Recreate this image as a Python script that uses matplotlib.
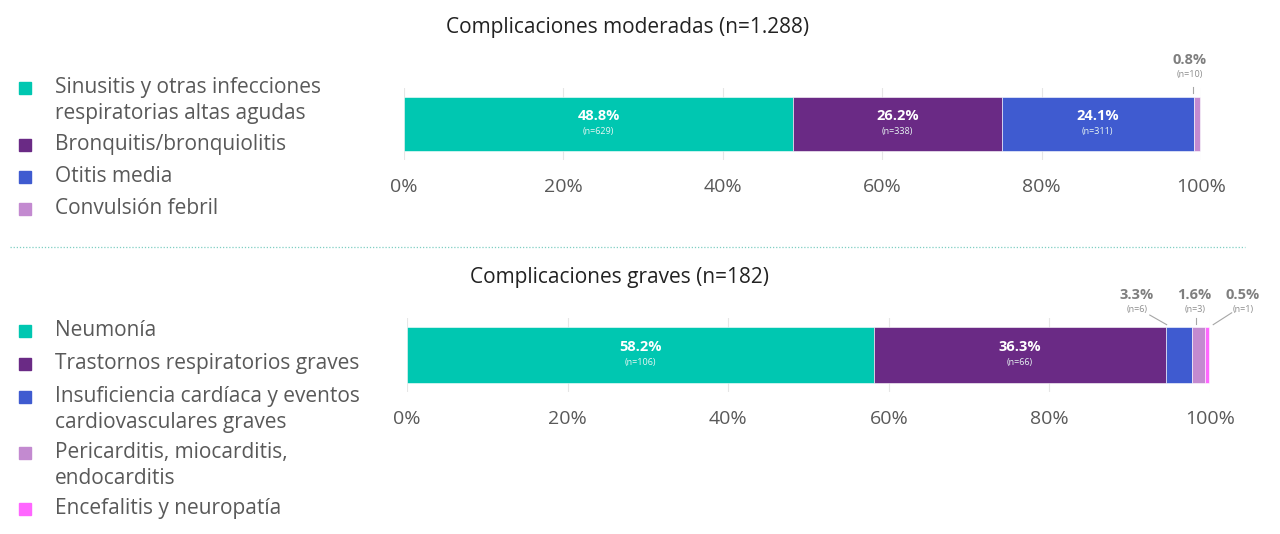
import matplotlib.pyplot as plt
from matplotlib.patches import Rectangle
from matplotlib.lines import Line2D

plt.rcParams['font.family'] = ['Open Sans', 'DejaVu Sans']

# datos
mod_labels = ['Sinusitis y otras infecciones\nrespiratorias altas agudas',
              'Bronquitis/bronquiolitis', 'Otitis media', 'Convulsión febril']
mod_pct = [48.8, 26.2, 24.1, 0.8]
mod_n = [629, 338, 311, 10]
mod_colors = ['#00C7B1', '#6A2A85', '#3F5BD0', '#C38AD0']

grav_labels = ['Neumonía', 'Trastornos respiratorios graves',
               'Insuficiencia cardíaca y eventos\ncardiovasculares graves',
               'Pericarditis, miocarditis,\nendocarditis', 'Encefalitis y neuropatía']
grav_pct = [58.2, 36.3, 3.3, 1.6, 0.5]
grav_n = [106, 66, 6, 3, 1]
grav_colors = ['#00C7B1', '#6A2A85', '#3F5BD0', '#C38AD0', '#FF66FF']

ticks = [0, 20, 40, 60, 80, 100]
W, H = 1280, 534

fig = plt.figure(figsize=(12.8, 5.34), dpi=100)


def px_axes(x0, x1, y0, y1):
    return fig.add_axes([x0 / W, 1 - y1 / H, (x1 - x0) / W, (y1 - y0) / H])


def draw_bar(ax, pct, n, colors):
    left = 0
    for p, k, c in zip(pct, n, colors):
        ax.barh(0, p, left=left, height=0.75, color=c, edgecolor='white', linewidth=0.4, zorder=2)
        if p > 10:
            ax.text(left + p / 2, 0.11, f'{p}%', ha='center', va='center', color='white',
                    fontsize=10.5, fontweight='bold', zorder=3)
            ax.text(left + p / 2, -0.1, f'(n={k})', ha='center', va='center', color='#E8F6F3',
                    fontsize=6.5, zorder=3)
        left += p
    ax.set_xlim(0, 100)
    ax.set_ylim(-0.5, 0.5)
    ax.set_xticks(ticks)
    ax.set_xticklabels([f'{t}%' for t in ticks], fontsize=14, color='#595959')
    ax.tick_params(axis='x', length=0, pad=13)
    ax.set_yticks([])
    for s in ax.spines.values():
        s.set_visible(False)
    ax.grid(axis='x', color='#E6E6E6', linewidth=0.8, zorder=0)
    ax.set_axisbelow(True)


def small_label(ax, x, y, pct, k, line):
    tr = ax.get_xaxis_transform()
    ax.text(x, y, f'{pct}%', transform=tr, ha='center', va='center', color='#7F7F7F',
            fontsize=10.5, fontweight='bold', clip_on=False)
    ax.text(x, y - 0.2, f'(n={k})', transform=tr, ha='center', va='center', color='#8C8C8C',
            fontsize=6.5, clip_on=False)
    ax.add_line(Line2D(line[0], line[1], transform=tr, color='#A6A6A6', linewidth=0.8,
                       clip_on=False))


# moderadas
ax1 = px_axes(404, 1201, 88, 160)
draw_bar(ax1, mod_pct, mod_n, mod_colors)
small_label(ax1, 98.6, 1.39, mod_pct[3], mod_n[3], ([99.0, 99.0], [1.01, 0.93]))
fig.text(628 / W, 1 - 28 / H, 'Complicaciones moderadas (n=1.288)', ha='center', va='center',
         fontsize=15, color='#222222')

# graves
ax2 = px_axes(407, 1210, 318, 392)
draw_bar(ax2, grav_pct, grav_n, grav_colors)
small_label(ax2, 90.9, 1.31, grav_pct[2], grav_n[2], ([92.5, 94.6], [1.04, 0.91]))
small_label(ax2, 98.1, 1.31, grav_pct[3], grav_n[3], ([98.3, 98.3], [1.0, 0.92]))
small_label(ax2, 104.1, 1.31, grav_pct[4], grav_n[4], ([102.7, 100.4], [1.07, 0.91]))
fig.text(619 / W, 1 - 278 / H, 'Complicaciones graves (n=182)', ha='center', va='center',
         fontsize=15, color='#222222')

# leyendas
def legend(labels, colors, ys):
    for lab, c, y in zip(labels, colors, ys):
        fig.patches.append(Rectangle((19 / W, 1 - (y + 6) / H), 12 / W, 12 / H, color=c,
                                     transform=fig.transFigure))
        fig.text(55 / W, 1 - (y - 11) / H, lab, ha='left', va='top', fontsize=15,
                 color='#595959', linespacing=1.33)


legend(mod_labels, mod_colors, [88, 145, 177, 209])
legend(grav_labels, grav_colors, [331, 364, 397, 453, 509])

# separador
fig.add_artist(Line2D([10 / W, 1245 / W], [1 - 247 / H, 1 - 247 / H], transform=fig.transFigure,
                      color='#7FCFC2', linewidth=0.9, linestyle=(0, (1, 1.5))))

fig.savefig('out.png', dpi=100, facecolor='white')
